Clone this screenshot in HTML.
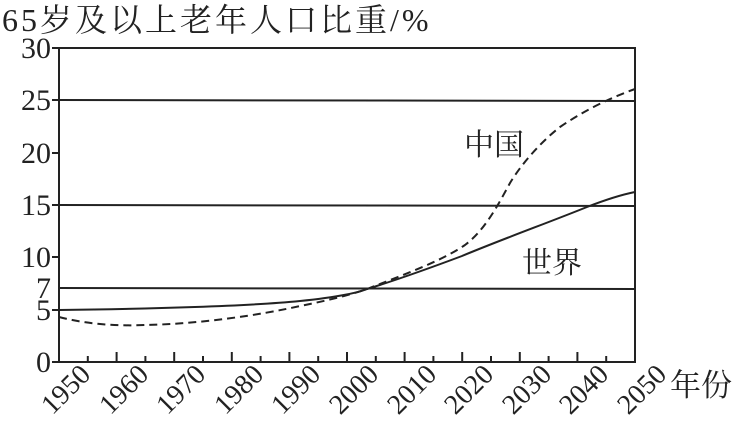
<!DOCTYPE html>
<html><head><meta charset="utf-8"><style>
body{margin:0;background:#fff;width:743px;height:430px;overflow:hidden}
text{font-family:"Liberation Serif","Noto Serif CJK SC",serif;fill:#222}
</style></head><body>
<svg width="743" height="430" viewBox="0 0 743 430" xmlns="http://www.w3.org/2000/svg">
<text x="2" y="31" font-size="32" letter-spacing="3">65岁及以上老年人口比重/%</text>
<g stroke="#222" stroke-width="2" fill="none">
<rect x="59" y="48" width="576" height="314"/>
<line x1="59" y1="100" x2="635" y2="101"/>
<line x1="59" y1="205" x2="635" y2="206"/>
<line x1="59" y1="288" x2="635" y2="289"/>
<path d="M59,310 C150,309 250,306 300,301 C340,297 360,292 367,289 C400,279 430,268 462,256 C500,240 550,222 587,207 C610,198 625,194 635,192"/>
<path stroke-dasharray="8,5" d="M59,317 C90,325 120,326 145,325 C200,324 260,315 300,306 C340,298 355,293 367,289 C400,276 440,262 465,245 C485,230 498,205 510,183 C522,163 542,141 560,127 C585,110 610,98 635,89"/>
</g>
<g stroke="#222" stroke-width="2">
<line x1="87.8" y1="362" x2="87.8" y2="356"/><line x1="116.6" y1="362" x2="116.6" y2="352"/>
<line x1="145.4" y1="362" x2="145.4" y2="356"/><line x1="174.2" y1="362" x2="174.2" y2="352"/>
<line x1="203" y1="362" x2="203" y2="356"/><line x1="231.8" y1="362" x2="231.8" y2="352"/>
<line x1="260.6" y1="362" x2="260.6" y2="356"/><line x1="289.4" y1="362" x2="289.4" y2="352"/>
<line x1="318.2" y1="362" x2="318.2" y2="356"/><line x1="347" y1="362" x2="347" y2="352"/>
<line x1="375.8" y1="362" x2="375.8" y2="356"/><line x1="404.6" y1="362" x2="404.6" y2="352"/>
<line x1="433.4" y1="362" x2="433.4" y2="356"/><line x1="462.2" y1="362" x2="462.2" y2="352"/>
<line x1="491" y1="362" x2="491" y2="356"/><line x1="519.8" y1="362" x2="519.8" y2="352"/>
<line x1="548.6" y1="362" x2="548.6" y2="356"/><line x1="577.4" y1="362" x2="577.4" y2="352"/>
<line x1="606.2" y1="362" x2="606.2" y2="356"/>
<line x1="52" y1="48" x2="59" y2="48"/><line x1="52" y1="100" x2="59" y2="100"/>
<line x1="52" y1="153" x2="59" y2="153"/><line x1="52" y1="205" x2="59" y2="205"/>
<line x1="52" y1="257" x2="59" y2="257"/><line x1="52" y1="310" x2="59" y2="310"/>
<line x1="52" y1="362" x2="59" y2="362"/>
</g>
<g font-size="30" text-anchor="end">
<text x="51" y="58">30</text><text x="51" y="110">25</text><text x="51" y="163">20</text>
<text x="51" y="215">15</text><text x="51" y="267">10</text><text x="51" y="298">7</text>
<text x="51" y="320">5</text><text x="51" y="372">0</text>
</g>
<g font-size="28" text-anchor="end">
<text transform="translate(92,376) rotate(-45)">1950</text>
<text transform="translate(150,376) rotate(-45)">1960</text>
<text transform="translate(207,376) rotate(-45)">1970</text>
<text transform="translate(265,376) rotate(-45)">1980</text>
<text transform="translate(322,376) rotate(-45)">1990</text>
<text transform="translate(380,376) rotate(-45)">2000</text>
<text transform="translate(438,376) rotate(-45)">2010</text>
<text transform="translate(495,376) rotate(-45)">2020</text>
<text transform="translate(553,376) rotate(-45)">2030</text>
<text transform="translate(610,376) rotate(-45)">2040</text>
<text transform="translate(668,376) rotate(-45)">2050</text>
</g>
<text x="670" y="396" font-size="31">年份</text>
<text x="464" y="155" font-size="30">中国</text>
<text x="522" y="273" font-size="30">世界</text>
</svg>
</body></html>
